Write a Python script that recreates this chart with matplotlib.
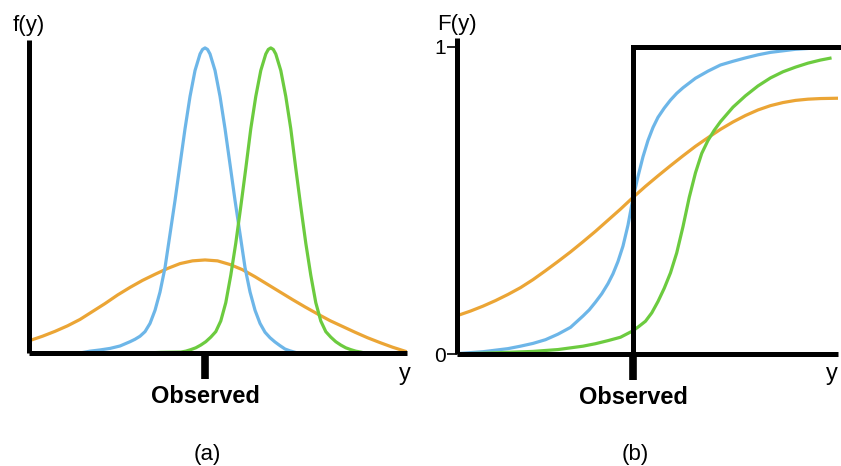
import matplotlib
matplotlib.use("Agg")
import matplotlib.pyplot as plt

plt.rcParams['font.family'] = ['Liberation Sans', 'DejaVu Sans']

# ---- panel (a): densities, x in arbitrary units, Observed at 0 ----
blue_pdf_x = [-5.0, -4.6, -4.2, -3.8, -3.4, -3.0, -2.8, -2.6, -2.4, -2.2, -2.0, -1.8, -1.6, -1.4,
              -1.2, -1.0, -0.8, -0.6, -0.4, -0.2, -0.1, 0.0, 0.1,
              0.2, 0.4, 0.6, 0.8, 1.0, 1.2, 1.4, 1.6, 1.8, 2.0, 2.2, 2.4, 2.6, 2.8, 3.0, 3.2, 3.4, 3.7]
blue_pdf_y = [0.0, 0.006, 0.010, 0.015, 0.023, 0.037, 0.045, 0.055, 0.070, 0.097, 0.140, 0.200, 0.280, 0.390,
              0.500, 0.618, 0.735, 0.841, 0.926, 0.980, 0.995, 1.0, 0.995,
              0.980, 0.926, 0.841, 0.735, 0.618, 0.500, 0.390, 0.280, 0.200, 0.140, 0.097, 0.068, 0.050,
              0.036, 0.024, 0.013, 0.007, 0.0]

green_pdf_x = [-2.37, -1.77, -0.97, -0.77, -0.57, -0.37, -0.17, 0.03, 0.23, 0.43, 0.63, 0.83, 1.03, 1.23,
               1.43, 1.63, 1.83, 2.03, 2.23, 2.43, 2.53, 2.63, 2.73,
               2.83, 3.03, 3.23, 3.43, 3.63, 3.83, 4.03, 4.23, 4.43, 4.63, 4.83, 5.03, 5.23, 5.43, 5.63,
               5.83, 6.03, 6.23, 6.38]
green_pdf_y = [0.0, 0.002, 0.003, 0.006, 0.011, 0.017, 0.026, 0.037, 0.052, 0.070, 0.105, 0.165, 0.255, 0.360,
               0.480, 0.605, 0.735, 0.841, 0.926, 0.980, 0.995, 1.0, 0.995,
               0.980, 0.926, 0.841, 0.735, 0.605, 0.480, 0.360, 0.255, 0.165, 0.105, 0.070, 0.052, 0.037,
               0.026, 0.017, 0.011, 0.006, 0.003, 0.0]

orange_pdf_x = [-6.93, -6.5, -6.0, -5.5, -5.0, -4.5, -4.0, -3.5, -3.0, -2.5, -2.0, -1.5, -1.0, -0.5, 0.0,
                0.5, 1.0, 1.5, 2.0, 2.5, 3.0, 3.5, 4.0, 4.5, 5.0, 5.5, 6.0, 6.5, 7.0, 7.5, 8.07]
orange_pdf_y = [0.043, 0.055, 0.071, 0.089, 0.110, 0.136, 0.162, 0.190, 0.215, 0.238, 0.258, 0.277, 0.293,
                0.302, 0.305, 0.302, 0.290, 0.273, 0.250, 0.225, 0.200, 0.175, 0.151, 0.128, 0.106, 0.087,
                0.068, 0.050, 0.034, 0.019, 0.004]

# ---- panel (b): CDFs ----
blue_cdf_x = [-7.0, -6.5, -6.0, -5.5, -5.0, -4.5, -4.0, -3.5, -3.0, -2.5, -2.0, -1.75, -1.5, -1.25, -1.0,
              -0.8, -0.6, -0.4, -0.2, 0.0, 0.2, 0.4, 0.6, 0.8, 1.0, 1.25, 1.5, 1.75, 2.0, 2.5, 3.0, 3.5,
              4.0, 4.5, 5.0, 5.5, 6.0, 6.5, 7.08]
blue_cdf_y = [0.003, 0.006, 0.009, 0.014, 0.019, 0.027, 0.036, 0.048, 0.066, 0.088, 0.125, 0.145, 0.170,
              0.197, 0.230, 0.262, 0.302, 0.352, 0.420, 0.507, 0.578, 0.642, 0.695, 0.737, 0.770, 0.800,
              0.826, 0.848, 0.866, 0.897, 0.920, 0.940, 0.952, 0.963, 0.973, 0.981, 0.986, 0.991, 0.994]

green_cdf_x = [-7.0, -6.0, -5.0, -4.0, -3.0, -2.0, -1.5, -1.0, -0.5, 0.0, 0.25, 0.5, 0.75, 1.0, 1.25,
               1.5, 1.75, 2.0, 2.25, 2.5, 2.75, 3.0, 3.25, 3.5, 4.0, 4.5, 5.0, 5.5, 6.0, 6.5, 7.0, 7.5, 7.88]
green_cdf_y = [0.002, 0.004, 0.007, 0.010, 0.016, 0.027, 0.035, 0.045, 0.056, 0.077, 0.092, 0.108, 0.135,
               0.172, 0.215, 0.265, 0.330, 0.415, 0.510, 0.590, 0.653, 0.695, 0.728, 0.756, 0.803, 0.840,
               0.872, 0.898, 0.918, 0.933, 0.946, 0.956, 0.962]

orange_cdf_x = [-7.0, -6.5, -6.0, -5.5, -5.0, -4.5, -4.0, -3.5, -3.0, -2.5, -2.0, -1.5, -1.0, -0.5, 0.0,
                0.5, 1.0, 1.5, 2.0, 2.5, 3.0, 3.5, 4.0, 4.5, 5.0, 5.5, 6.0, 6.5, 7.0, 7.5, 8.15]
orange_cdf_y = [0.127, 0.141, 0.157, 0.175, 0.195, 0.217, 0.243, 0.272, 0.302, 0.333, 0.366, 0.400, 0.436,
                0.472, 0.510, 0.546, 0.580, 0.613, 0.645, 0.676, 0.704, 0.731, 0.755, 0.776, 0.794, 0.808,
                0.818, 0.825, 0.829, 0.831, 0.832]

# observation step function (empirical CDF of the single observed value)
obs_value = 0.0
step_x = [obs_value, obs_value, 8.2]
step_y = [0.0, 1.0, 1.0]

BLUE = "#6DB6E8"
GREEN = "#6CCB3F"
ORANGE = "#EBA535"
LW_CURVE = 2.3
LW_AXIS = 3.6

fig = plt.figure(figsize=(8.41, 4.66), dpi=100)
ax1 = fig.add_axes([0.0345, 0.2425, 0.4495, 0.6717])
ax2 = fig.add_axes([0.5434, 0.2393, 0.453, 0.6794])

for ax in (ax1, ax2):
    for side in ("top", "right"):
        ax.spines[side].set_visible(False)
    for side in ("left", "bottom"):
        ax.spines[side].set_linewidth(LW_AXIS)
        ax.spines[side].set_color("black")
        ax.spines[side].set_capstyle("butt")
    ax.set_facecolor("none")
    ax.set_xticks([obs_value])
    ax.set_xticklabels(["Observed"], fontsize=17, fontweight="bold")
    ax.tick_params(axis="x", length=19, width=5.5, pad=4, direction="out", color="black")

# panel (a)
ax1.plot(orange_pdf_x, orange_pdf_y, color=ORANGE, lw=LW_CURVE, solid_joinstyle="round")
ax1.plot(blue_pdf_x, blue_pdf_y, color=BLUE, lw=LW_CURVE, solid_joinstyle="round")
ax1.plot(green_pdf_x, green_pdf_y, color=GREEN, lw=LW_CURVE, solid_joinstyle="round")
ax1.set_xlim(-7.04, 8.08)
ax1.set_ylim(0, 1.026)
ax1.set_yticks([])

# panel (b)
ax2.plot(orange_cdf_x, orange_cdf_y, color=ORANGE, lw=LW_CURVE, solid_joinstyle="round")
ax2.plot(blue_cdf_x, blue_cdf_y, color=BLUE, lw=LW_CURVE, solid_joinstyle="round")
ax2.plot(green_cdf_x, green_cdf_y, color=GREEN, lw=LW_CURVE, solid_joinstyle="round")
ax2.plot(step_x, step_y, color="black", lw=LW_AXIS, solid_joinstyle="miter", clip_on=False)
ax2.set_xlim(-7.04, 8.2)
ax2.set_ylim(0, 1.028)
ax2.set_yticks([0, 1])
ax2.set_yticklabels(["0", "1"], fontsize=15)
ax2.tick_params(axis="y", length=7, width=1.2, pad=1, color="black")

# axis names and panel letters
fig.text(0.0345, 0.946, "f(y)", fontsize=16, ha="center", va="center")
fig.text(0.5434, 0.948, "F(y)", fontsize=16, ha="center", va="center")
fig.text(0.4816, 0.197, "y", fontsize=17, ha="center", va="center")
fig.text(0.989, 0.197, "y", fontsize=17, ha="center", va="center")
fig.text(0.246, 0.024, "(a)", fontsize=16, ha="center", va="center")
fig.text(0.755, 0.024, "(b)", fontsize=16, ha="center", va="center")

fig.savefig("out.png", dpi=100, facecolor="white")
